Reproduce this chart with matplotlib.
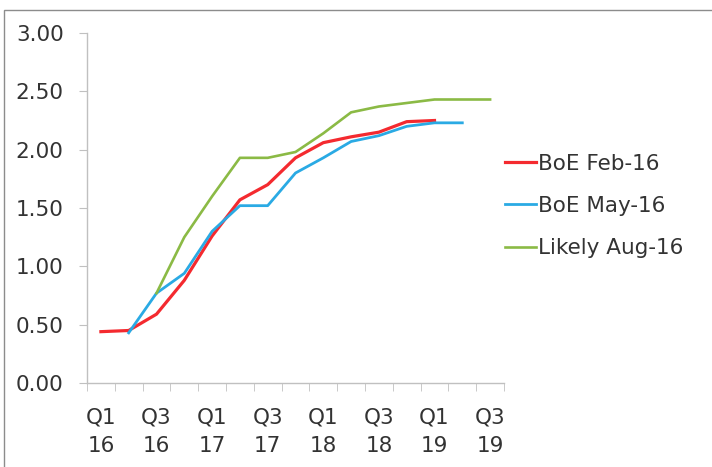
import numpy as np
import matplotlib
matplotlib.use("Agg")
import matplotlib.pyplot as plt
from matplotlib.patches import Rectangle

# quarterly path of Bank Rate expectations, Q1 2016 .. Q3 2019
quarters = ["Q1\n16", "Q2\n16", "Q3\n16", "Q4\n16",
            "Q1\n17", "Q2\n17", "Q3\n17", "Q4\n17",
            "Q1\n18", "Q2\n18", "Q3\n18", "Q4\n18",
            "Q1\n19", "Q2\n19", "Q3\n19"]

boe_feb = [0.44, 0.45, 0.59, 0.88, 1.26, 1.57, 1.70, 1.93, 2.06, 2.11, 2.15, 2.24, 2.25]
boe_may = [None, 0.43, 0.77, 0.94, 1.30, 1.52, 1.52, 1.80, 1.93, 2.07, 2.12, 2.20, 2.23, 2.23]
likely_aug = [None, None, 0.77, 1.25, 1.60, 1.93, 1.93, 1.98, 2.14, 2.32, 2.37, 2.40, 2.43, 2.43, 2.43]

series = [
    ("BoE Feb-16", boe_feb, "#F42A2F", 2.3),
    ("BoE May-16", boe_may, "#2AAAE4", 2.0),
    ("Likely Aug-16", likely_aug, "#8BBA45", 1.9),
]

fig = plt.figure(figsize=(7.12, 4.67), dpi=100)
ax = fig.add_axes([87 / 712, 1 - 383 / 467, 417 / 712, 350 / 467])

x = np.arange(len(quarters))
for name, vals, col, lw in series:
    y = np.array([np.nan if v is None else v for v in vals], dtype=float)
    ax.plot(x[:len(y)], y, color=col, lw=lw, label=name, solid_joinstyle="round")

ax.set_xlim(-0.5, len(quarters) - 0.5)
ax.set_ylim(0, 3)
ax.set_yticks(np.arange(0, 3.01, 0.5))
ax.set_yticklabels([f"{v:.2f}" for v in np.arange(0, 3.01, 0.5)])

ax.set_xticks(x[::2])
ax.set_xticklabels(quarters[::2], linespacing=1.5)
ax.set_xticks(np.arange(-0.5, len(quarters)), minor=True)

for s in ["top", "right"]:
    ax.spines[s].set_visible(False)
for s in ["left", "bottom"]:
    ax.spines[s].set_color("#C0C0C0")
    ax.spines[s].set_linewidth(1.0)

ax.tick_params(axis="y", length=5.8, color="#C0C0C0", pad=11, labelsize=15.5, labelcolor="#333333")
ax.tick_params(axis="x", which="major", length=0, pad=18, labelsize=15.5, labelcolor="#333333")
ax.tick_params(axis="x", which="minor", length=5.8, color="#C0C0C0")

ax.legend(loc="center left", bbox_to_anchor=(505 / 712, 1 - 206 / 467), bbox_transform=fig.transFigure,
          frameon=False, fontsize=15.5, handlelength=1.45, handletextpad=0.1, labelspacing=1.03,
          labelcolor="#333333", borderaxespad=0, borderpad=0)

# outer frame of the chart area
fig.patches.append(Rectangle((4 / 712, -0.05), 1.0, 1 - 10 / 467 + 0.05, transform=fig.transFigure,
                             fill=False, edgecolor="#8C8C8C", lw=1.0))

fig.savefig("out.png", dpi=100)
